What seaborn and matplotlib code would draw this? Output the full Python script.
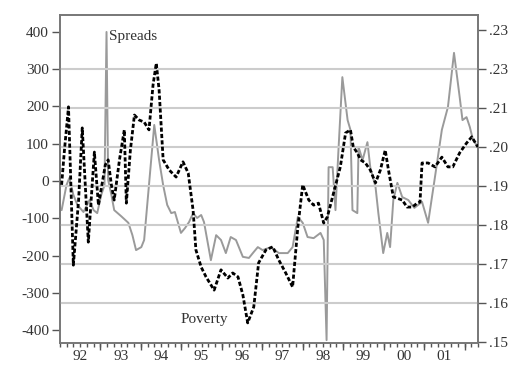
import matplotlib
matplotlib.use("Agg")
import numpy as np
import matplotlib.pyplot as plt
import seaborn as sns

# <editor-fold data>
# Spreads (basis points, left axis)
spread_t = [1992.04, 1992.16, 1992.23, 1992.33, 1992.43, 1992.58, 1992.73, 1992.83, 1992.92,
            1993.02, 1993.10, 1993.15, 1993.19, 1993.27, 1993.34, 1993.51, 1993.69, 1993.79,
            1993.88, 1994.01, 1994.08, 1994.33, 1994.45, 1994.55, 1994.65, 1994.75, 1994.84,
            1994.99, 1995.09, 1995.19, 1995.29, 1995.39, 1995.49, 1995.56, 1995.73, 1995.86,
            1995.98, 1996.10, 1996.22, 1996.35, 1996.52, 1996.67, 1996.79, 1996.89, 1997.01,
            1997.22, 1997.41, 1997.63, 1997.75, 1997.88, 1998.00, 1998.12, 1998.27, 1998.44,
            1998.52, 1998.59, 1998.64, 1998.74, 1998.81, 1998.88, 1998.98, 1999.11, 1999.18,
            1999.23, 1999.35, 1999.38, 1999.48, 1999.60, 1999.67, 1999.80, 1999.87, 1999.99,
            2000.09, 2000.16, 2000.24, 2000.34, 2000.46, 2000.61, 2000.76, 2000.95, 2001.10,
            2001.27, 2001.44, 2001.59, 2001.74, 2001.88, 2001.95, 2002.05, 2002.13, 2002.21,
            2002.33]
spread_v = [-78, -11, 8, -37, -64, -83, -51, -78, -86,
            -37, -11, 399, 3, -37, -78, -94, -112, -145,
            -185, -177, -158, 150, 56, -11, -64, -86, -83,
            -139, -126, -110, -86, -99, -91, -110, -212, -145,
            -158, -193, -150, -158, -203, -206, -190, -177, -185,
            -177, -193, -193, -177, -96, -112, -150, -153, -139,
            -158, -426, 37, 37, -78, 75, 278, 163, 137,
            -78, -86, 91, 56, 104, 37, -16, -86, -193,
            -139, -177, -51, -5, -43, -51, -72, -56, -112,
            11, 137, 198, 343, 225, 163, 171, 145, 110,
            91]

# Poverty rate (right axis)
poverty_t = [1992.04, 1992.11, 1992.21, 1992.33, 1992.46, 1992.55, 1992.70, 1992.85, 1992.95,
             1993.12, 1993.19, 1993.27, 1993.34, 1993.47, 1993.59, 1993.64, 1993.74, 1993.84,
             1993.96, 1994.08, 1994.20, 1994.30, 1994.38, 1994.45, 1994.55, 1994.70, 1994.87,
             1995.04, 1995.17, 1995.29, 1995.36, 1995.49, 1995.61, 1995.81, 1995.98, 1996.15,
             1996.27, 1996.40, 1996.52, 1996.64, 1996.79, 1996.91, 1997.09, 1997.26, 1997.41,
             1997.58, 1997.75, 1997.88, 1998.00, 1998.15, 1998.27, 1998.39, 1998.52, 1998.61,
             1998.93, 1999.06, 1999.18, 1999.25, 1999.35, 1999.43, 1999.55, 1999.67, 1999.80,
             1999.92, 2000.04, 2000.12, 2000.24, 2000.46, 2000.58, 2000.71, 2000.83, 2000.90,
             2000.95, 2001.10, 2001.27, 2001.44, 2001.59, 2001.71, 2001.88, 2002.05, 2002.18,
             2002.33]
poverty_v = [.1903, .1992, .2103, .1697, .1864, .2049, .1756, .1987, .1851,
             .1954, .1967, .1903, .1864, .1967, .2044, .1856, .1992, .2082,
             .2069, .2064, .2044, .2159, .2215, .2146, .1967, .1941, .1923,
             .1962, .1933, .1838, .1736, .1692, .1667, .1633, .1685, .1664,
             .1677, .1667, .1621, .1549, .1590, .1703, .1736, .1744, .1710,
             .1677, .1641, .1795, .1903, .1864, .1851, .1856, .1805, .1821,
             .1949, .2036, .2044, .2000, .1985, .1967, .1959, .1941, .1908,
             .1941, .1992, .1941, .1872, .1864, .1846, .1846, .1856, .1859,
             .1959, .1959, .1949, .1974, .1949, .1949, .1985, .2010, .2026,
             .2000]

years = list(range(1992, 2002))
year_labels = ["92", "93", "94", "95", "96", "97", "98", "99", "00", "01"]
left_ticks = [400, 300, 200, 100, 0, -100, -200, -300, -400]
right_ticks = [.15, .16, .17, .18, .19, .20, .21, .22, .23]
right_labels = [".15", ".16", ".17", ".18", ".19", ".20", ".21", ".23", ".23"]
grid_levels = [.16, .17, .18, .19, .20, .21, .22]
# </editor-fold>

sns.set_style("white")
plt.rcParams["font.family"] = ["Liberation Serif", "DejaVu Serif"]

fig = plt.figure(figsize=(5.16, 3.67), dpi=100)
ax = fig.add_axes([60 / 516, 24 / 367, 418 / 516, 328 / 367])
ax2 = ax.twinx()

# gridlines follow the right axis
for g in grid_levels:
    ax2.axhline(g, color="#cccccc", lw=1.5, zorder=0)

sns.lineplot(x=spread_t, y=spread_v, ax=ax, color="#9a9a9a", linewidth=1.4,
             estimator=None, sort=False)
sns.lineplot(x=poverty_t, y=poverty_v, ax=ax2, color="black", linewidth=2.0,
             linestyle=(0, (1.5, 0.8)), estimator=None, sort=False, zorder=3)

ax.set_xlim(1992.037, 2002.33)
ax.set_ylim(-433.7, 444.4)
ax2.set_ylim(0.14974, 0.23385)

# x axis: labels mid-year, small ticks every two months, longer ticks at year breaks
ax.set_xticks([y + 0.5 for y in years], labels=year_labels)
ax.set_xticks(np.arange(1992, 2002.34, 1 / 6), minor=True)
ax.tick_params(axis="x", which="both", direction="out", length=3, width=1,
               color="#555555", labelsize=11, labelcolor="#333333", pad=2, bottom=True)
sec = ax.secondary_xaxis("bottom")
sec.set_xticks(years[1:] + [2002])
sec.tick_params(axis="x", length=5, width=1, color="#555555", labelbottom=False)
sec.spines["bottom"].set_visible(False)

ax.set_yticks(left_ticks, labels=[str(v) for v in left_ticks])
ax.tick_params(axis="y", direction="out", length=6, width=1, color="#555555",
               labelsize=11, labelcolor="#333333", pad=2, left=True)
ax2.set_yticks(right_ticks, labels=right_labels)
ax2.tick_params(axis="y", direction="out", length=6, width=1, color="#555555",
                labelsize=11, labelcolor="#333333", pad=2, right=True)

for a in (ax, ax2):
    for s in a.spines.values():
        s.set_color("#777777")
        s.set_linewidth(1.2)
    a.set_xlabel("")
    a.set_ylabel("")

ax.text(1993.22, 388, "Spreads", fontsize=11, color="#333333", va="center", ha="left")
ax.text(1994.99, -372, "Poverty", fontsize=11, color="#333333", va="center", ha="left")

fig.savefig("out.png", dpi=100)
